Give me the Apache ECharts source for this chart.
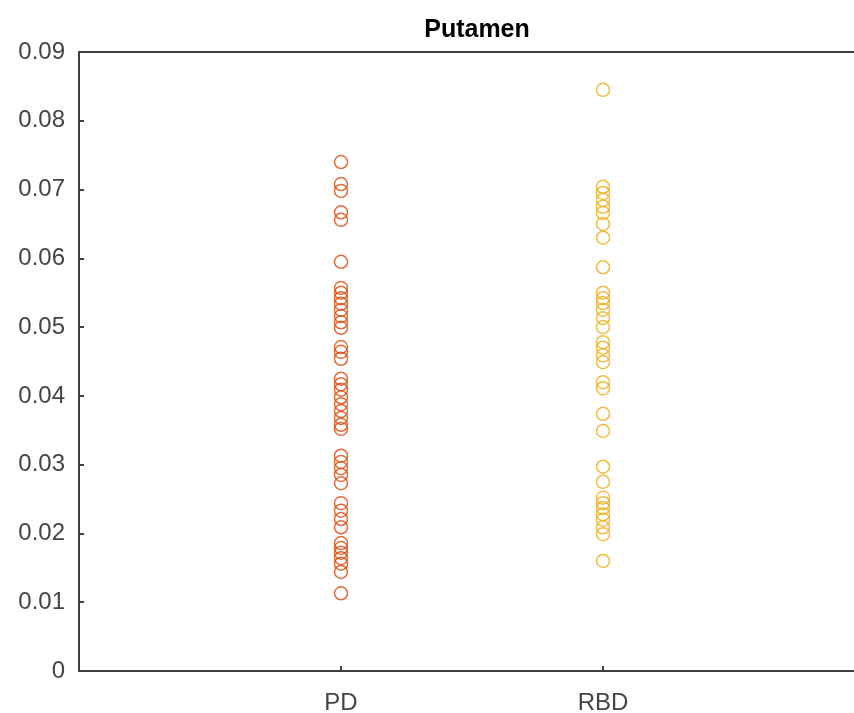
<!DOCTYPE html>
<html>
<head>
<meta charset="utf-8">
<script src="https://cdn.jsdelivr.net/npm/echarts@6/dist/echarts.min.js"></script>
<style>
html,body{margin:0;padding:0;background:#fff;}
#chart{width:854px;height:713px;}
</style>
</head>
<body>
<div id="chart"></div>
<script>
var titleText = 'Putamen';
var categories = ['PD', 'RBD'];
var yTicks = [0, 0.01, 0.02, 0.03, 0.04, 0.05, 0.06, 0.07, 0.08, 0.09];
var pdValues = [0.0740, 0.0708, 0.0698, 0.0667, 0.0656, 0.0595, 0.0557, 0.0550, 0.0542, 0.0534,
  0.0525, 0.0516, 0.0507, 0.0499, 0.0471, 0.0464, 0.0454, 0.0425, 0.0417, 0.0409,
  0.0398, 0.0388, 0.0378, 0.0368, 0.0358, 0.0352, 0.0313, 0.0304, 0.0295, 0.0285,
  0.0273, 0.0244, 0.0233, 0.0221, 0.0209, 0.0186, 0.0179, 0.0172, 0.0164, 0.0156,
  0.0144, 0.0113];
var rbdValues = [0.0845, 0.0704, 0.0695, 0.0685, 0.0675, 0.0666, 0.0650, 0.0630, 0.0587, 0.0550,
  0.0542, 0.0535, 0.0525, 0.0513, 0.0500, 0.0478, 0.0470, 0.0459, 0.0449, 0.0420,
  0.0411, 0.0374, 0.0349, 0.0297, 0.0275, 0.0252, 0.0244, 0.0237, 0.0228, 0.0220,
  0.0209, 0.0199, 0.0160];
var colors = ['#D95319', '#EDB120'];

var chart = echarts.init(document.getElementById('chart'));
var groups = [pdValues, rbdValues];
var series = groups.map(function (vals, gi) {
  return {
    type: 'scatter',
    name: categories[gi],
    symbol: 'circle',
    symbolSize: 13,
    itemStyle: { color: 'rgba(0,0,0,0)', borderColor: colors[gi], borderWidth: 1.5, opacity: 0.85 },
    data: vals.map(function (v) { return [gi + 1, v]; }),
    animation: false
  };
});
var font = 'Liberation Sans, Arial, sans-serif';
chart.setOption({
  animation: false,
  title: {
    text: titleText, left: 472, textAlign: 'center', top: 13,
    textStyle: { fontFamily: font, fontWeight: 'bold', fontSize: 25, color: '#000' }
  },
  grid: { left: 79, top: 52, width: 786, height: 619, outerBoundsMode: 'none', containLabel: false,
    show: true, borderColor: '#404040', borderWidth: 2, backgroundColor: '#fff' },
  xAxis: {
    type: 'value', min: 0, max: 3, interval: 1,
    splitLine: { show: false },
    axisLine: { show: true, lineStyle: { color: '#404040', width: 2 } },
    axisTick: { show: true, inside: true, length: 5, lineStyle: { color: '#404040', width: 2 } },
    axisLabel: {
      margin: 20, fontFamily: font, fontSize: 24, color: '#444',
      formatter: function (v) { return (v >= 1 && v <= categories.length) ? categories[v - 1] : ''; }
    }
  },
  yAxis: {
    type: 'value', min: yTicks[0], max: yTicks[yTicks.length - 1], interval: 0.01,
    splitLine: { show: false },
    axisLine: { show: true, lineStyle: { color: '#404040', width: 2 } },
    axisTick: { show: true, inside: true, length: 5, lineStyle: { color: '#404040', width: 2 } },
    axisLabel: {
      margin: 14, fontFamily: font, fontSize: 24, color: '#444',
      formatter: function (v) { return String(Math.round(v * 100) / 100); }
    }
  },
  series: series
});
</script>
</body>
</html>
